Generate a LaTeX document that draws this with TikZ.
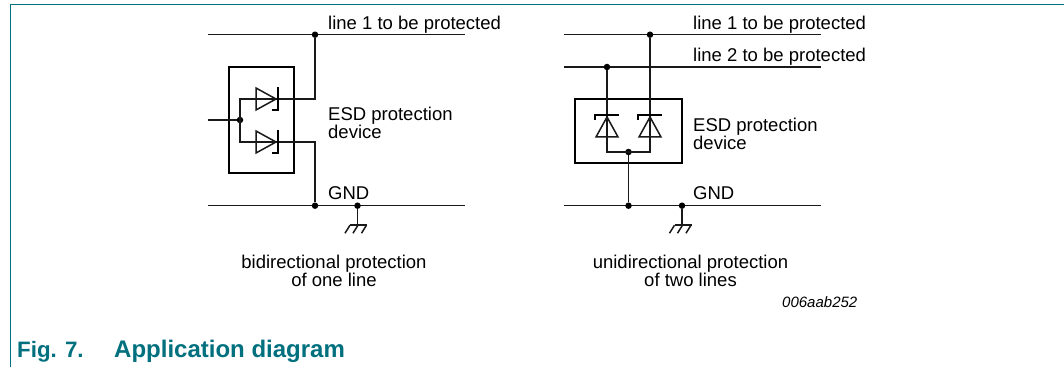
\documentclass[tikz,border=0pt]{standalone}
\usepackage{fontspec}
\setmainfont{Liberation Sans}
\definecolor{teal1}{HTML}{00707F}
\usetikzlibrary{calc}
\tikzset{
  wire/.style={line width=1.5pt,black!90},
  heavy/.style={line width=2.8pt,black},
  dot/.style={circle,fill=black,inner sep=0pt,minimum size=6.5pt},
  lbl/.style={inner sep=0pt,anchor=base west,font=\fontsize{18.5}{18.5}\selectfont},
  ctr/.style={inner sep=0pt,anchor=base,align=center,font=\fontsize{18.5}{18.5}\selectfont},
  capt/.style={inner sep=0pt,anchor=base west,text=teal1,font=\fontsize{22.3}{24}\selectfont\bfseries},
}
\newcommand{\gndsym}[1]{%
  \draw[wire] (#1) -- ++(0,-19.5) coordinate (#1t);
  \draw[wire] ($(#1t)+(-7.5,0)$) -- ($(#1t)+(9.5,0)$);
  \foreach \dx in {-7.5,0.5,9}{\draw[wire] ($(#1t)+(\dx,0)$) -- ++(-5,-8);}
}
\newcommand{\diodeR}[2]{%
  \draw[wire,line join=miter] (#1,#2) ++(-22,-11) -- ++(0,22) -- ++(20,-11) -- cycle;
  \draw[line width=2.1pt] (#1,#2) ++(0,12) -- ++(0,-23) -- ++(-6.5,0);
}
\newcommand{\diodeU}[2]{%
  \draw[wire,line join=miter] (#1,#2) ++(-11,-22) -- ++(22,0) -- ++(-11,20) -- cycle;
  \draw[line width=2.1pt] (#1,#2) ++(-12,-5) -- ++(0,5) -- ++(24,0);
}
\begin{document}
\begin{tikzpicture}[x=1pt,y=1pt]
\useasboundingbox (0,0) rectangle (1064,367);
\fill[white] (0,0) rectangle (1064,367);
\draw[teal1,line width=1pt] (1064,362.6) -- (10,362.6) -- (10,0);
% left circuit
\coordinate (la) at (207.5,332.3); \coordinate (lb) at (465,332.3);
\coordinate (ga) at (207.5,161.3); \coordinate (gb) at (465,161.3);
\draw[wire] (la) -- (lb);
\draw[wire] (ga) -- (gb);
\node[dot] (j1) at (315,332.3) {};
\node[dot] (j2) at (315,161.3) {};
\node[dot] (j3) at (357.5,161.3) {};
\node[dot] (j4) at (240,247) {};
\draw[heavy] (229,300) rectangle (294,194);
\coordinate (in) at (207.5,247);
\coordinate (ut) at (240,268); \coordinate (ub) at (240,225);
\coordinate (ct) at (315,268); \coordinate (cb) at (315,225);
\draw[wire] (in) -- (j4);
\draw[wire] (j1) -- (ct) -- (ut) -- (ub) -- (cb) -- (j2);
\diodeR{278}{268}
\diodeR{278}{225}
\gndsym{j3}
\node[lbl] (t1) at (328,337.5) {line 1 to be protected};
\node[lbl] (t2a) at (328,246.5) {ESD protection};
\node[lbl] (t2b) at (328,228) {device};
\node[lbl] (t3) at (328,167.5) {GND};
\node[ctr] (t4a) at (334,98.5) {bidirectional protection};
\node[ctr] (t4b) at (334,80.5) {of one line};
% right circuit
\coordinate (ra) at (564,332.3); \coordinate (rb) at (821,332.3);
\coordinate (sa) at (564,300); \coordinate (sb) at (821,300);
\coordinate (ha) at (564,161.3); \coordinate (hb) at (821,161.3);
\draw[wire] (ra) -- (rb);
\draw[wire] (sa) -- (sb);
\draw[wire] (ha) -- (hb);
\node[dot] (k1) at (650,332.3) {};
\node[dot] (k2) at (607,300) {};
\node[dot] (k3) at (628.5,215) {};
\node[dot] (k4) at (628.5,161.3) {};
\node[dot] (k5) at (682,161.3) {};
\draw[heavy] (575,268) rectangle (682,204);
\coordinate (b1) at (607,215); \coordinate (b2) at (650,215);
\draw[wire] (k2) -- (b1) -- (b2) -- (k1);
\draw[wire,line width=1.8pt] (k3) -- (k4);
\diodeU{607}{252}
\diodeU{650}{252}
\gndsym{k5}
\node[lbl] (r1) at (693,337.5) {line 1 to be protected};
\node[lbl] (r2) at (693,305.5) {line 2 to be protected};
\node[lbl] (r3a) at (693,235.5) {ESD protection};
\node[lbl] (r3b) at (693,217) {device};
\node[lbl] (r4) at (693,167.5) {GND};
\node[ctr] (r5a) at (690.5,98.5) {unidirectional protection};
\node[ctr] (r5b) at (690.5,80.5) {of two lines};
\node[inner sep=0pt,anchor=base west,font=\fontsize{15}{16}\selectfont\itshape] (code) at (782,59.5) {006aab252};
\node[capt] (cap1) at (17,10) {Fig. 7.};
\node[capt,font=\fontsize{24}{24}\selectfont\bfseries] (cap2) at (114,10) {Application diagram};
\end{tikzpicture}
\end{document}
